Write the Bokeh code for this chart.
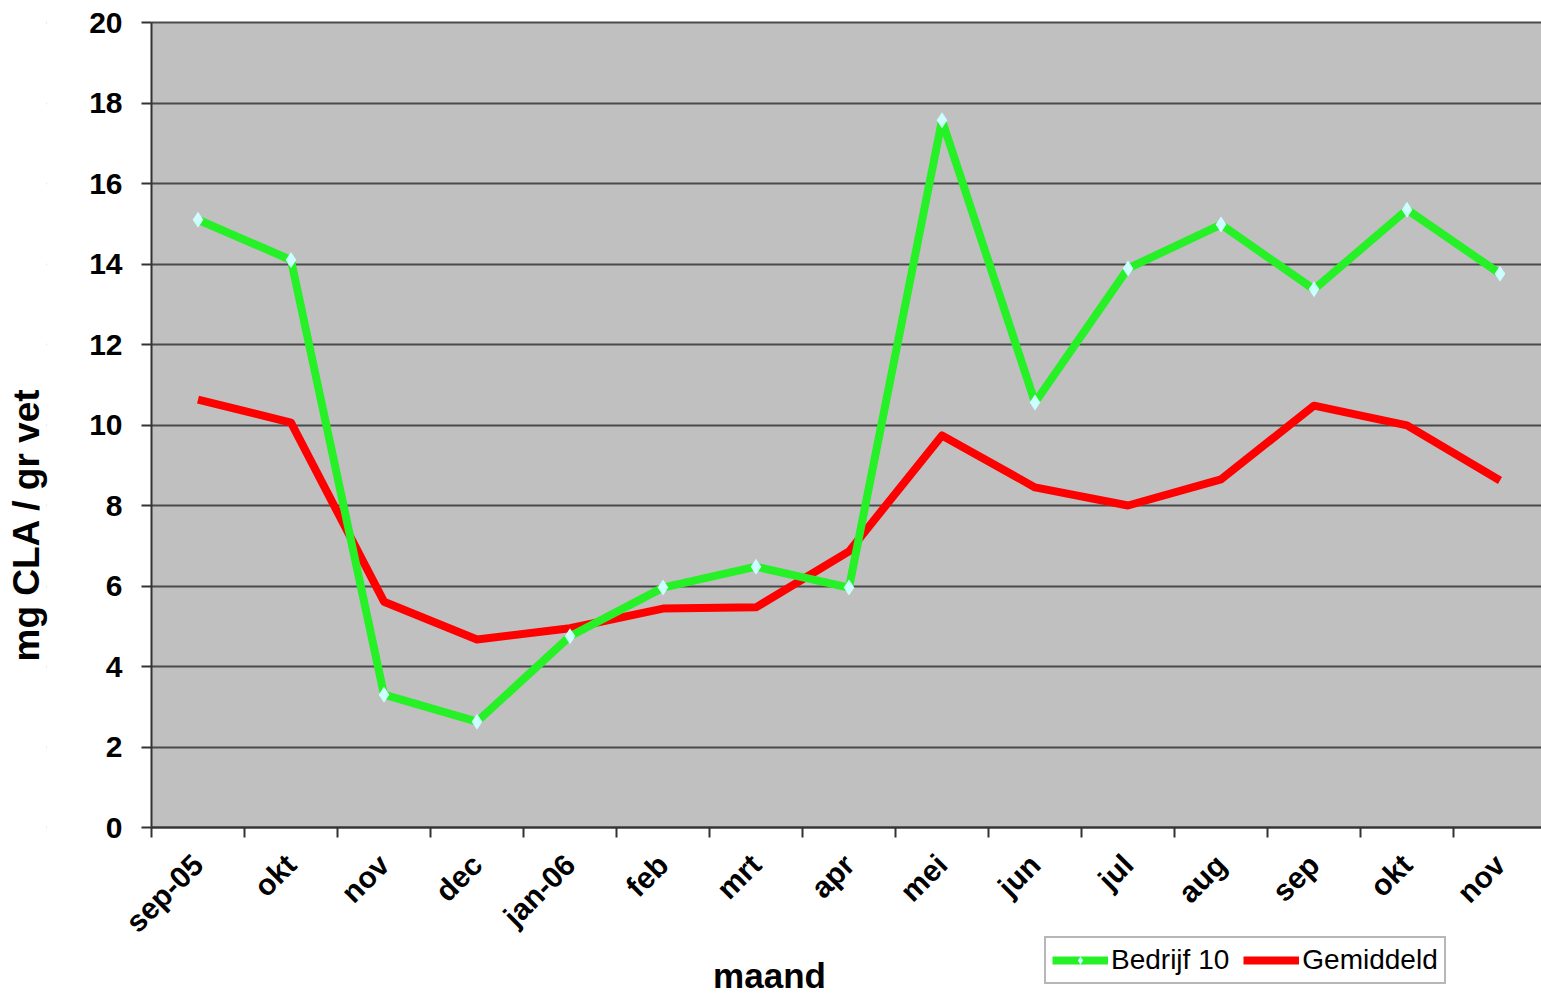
from math import pi
from bokeh.plotting import figure
from bokeh.models import (Range1d, FixedTicker, Legend, LegendItem, BoxAnnotation,
                          Title, Label)
from bokeh.embed import file_html
from bokeh.resources import INLINE

months = ["sep-05", "okt", "nov", "dec", "jan-06", "feb", "mrt", "apr",
          "mei", "jun", "jul", "aug", "sep", "okt", "nov"]
bedrijf10 = [15.1, 14.1, 3.3, 2.63, 4.75, 5.96, 6.48, 5.96,
             17.57, 10.56, 13.89, 14.98, 13.37, 15.35, 13.76]
gemiddeld = [10.63, 10.06, 5.61, 4.67, 4.95, 5.44, 5.47, 6.86,
             9.74, 8.45, 8.0, 8.65, 10.48, 9.99, 8.62]
y_ticks = [0, 2, 4, 6, 8, 10, 12, 14, 16, 18, 20]

xs = list(range(len(months)))

# layout (pixels)
W, H = 1541, 994
TITLE_PANEL = 46          # left panel holding the y-axis title
AXIS_X = 151              # page x of the y axis
TOP_Y, ZERO_Y = 22, 827   # page y of value 20 and value 0
CAT_W = 93.0              # pixel width of one month

ppu = (ZERO_Y - TOP_Y) / 20.0
x0 = -0.5 - (AXIS_X - TITLE_PANEL) / CAT_W
x1 = x0 + (W - TITLE_PANEL) / CAT_W
y_max = 20 + TOP_Y / ppu
y_min = -(H - ZERO_Y) / ppu

p = figure(width=W, height=H, output_backend="svg", toolbar_location=None,
           x_range=Range1d(x0, x1), y_range=Range1d(y_min, y_max),
           min_border_left=TITLE_PANEL, min_border_top=0,
           min_border_right=0, min_border_bottom=0)
p.background_fill_color = "white"
p.border_fill_color = "white"
p.outline_line_color = None

font = "Liberation Sans"

# grey plot area
p.add_layout(BoxAnnotation(left=-0.5, bottom=0, top=20, fill_color="#C0C0C0",
                           fill_alpha=1, line_color=None, level="image"))

# grid
p.xgrid.grid_line_color = None
p.ygrid.ticker = FixedTicker(ticks=y_ticks)
p.ygrid.grid_line_color = "#4a4a4a"
p.ygrid.grid_line_width = 2
# hide grid left of the y axis
p.add_layout(BoxAnnotation(left=x0 - 1, right=-0.5, bottom=y_min - 1, top=y_max + 1,
                           fill_color="white", fill_alpha=1,
                           line_color=None, level="underlay"))

# y axis
p.yaxis.fixed_location = -0.5
p.yaxis.ticker = FixedTicker(ticks=y_ticks)
p.yaxis.bounds = (0, 20)
p.yaxis.axis_line_color = "#333333"
p.yaxis.axis_line_width = 2
p.yaxis.major_tick_line_color = "#333333"
p.yaxis.major_tick_line_width = 2
p.yaxis.major_tick_out = 10
p.yaxis.major_tick_in = 0
p.yaxis.minor_tick_line_color = None
p.yaxis.major_label_text_font = font
p.yaxis.major_label_text_font_style = "bold"
p.yaxis.major_label_text_font_size = "30px"
p.yaxis.major_label_text_color = "black"
p.yaxis.major_label_standoff = 19

p.add_layout(Title(text="mg CLA / gr vet", align="left", offset=333,
                   text_font=font, text_font_style="bold", text_font_size="37px",
                   text_color="black", standoff=0), "left")

# x axis at y = 0: labels at month centres, ticks at month boundaries
p.xaxis.fixed_location = 0
p.xaxis.bounds = (-0.5, x1)
p.xaxis.ticker = FixedTicker(ticks=xs, minor_ticks=[i - 0.5 for i in range(len(months) + 1)])
p.xaxis.major_label_overrides = {i: m for i, m in enumerate(months)}
p.xaxis.axis_line_color = "#333333"
p.xaxis.axis_line_width = 2
p.xaxis.major_tick_line_color = None
p.xaxis.major_tick_out = 0
p.xaxis.major_tick_in = 0
p.xaxis.minor_tick_line_color = "#333333"
p.xaxis.minor_tick_line_width = 2
p.xaxis.minor_tick_out = 10
p.xaxis.minor_tick_in = 0
p.xaxis.major_label_orientation = pi / 4
p.xaxis.major_label_text_font = font
p.xaxis.major_label_text_font_style = "bold"
p.xaxis.major_label_text_font_size = "30px"
p.xaxis.major_label_text_color = "black"
p.xaxis.major_label_standoff = 22

p.add_layout(Label(x=769 - TITLE_PANEL, y=19, x_units="screen", y_units="screen",
                   text="maand", text_align="center", text_baseline="middle",
                   text_font=font, text_font_style="bold", text_font_size="35px",
                   text_color="black"))

green = "#26F026"
red = "#FF0000"

r_red = p.line(xs, gemiddeld, line_color=red, line_width=8, line_join="round")
r_green = p.line(xs, bedrijf10, line_color=green, line_width=8, line_join="round")
r_mark = p.scatter(xs, bedrijf10, marker="diamond", size=16,
                   fill_color="#CCFFFF", line_color=None)

legend = Legend(items=[LegendItem(label="Bedrijf 10", renderers=[r_green, r_mark]),
                       LegendItem(label="Gemiddeld", renderers=[r_red])],
                orientation="horizontal", location=(1044 - TITLE_PANEL, 10))
legend.label_text_font = font
legend.label_text_font_size = "28px"
legend.label_text_color = "black"
legend.glyph_width = 56
legend.glyph_height = 20
legend.label_standoff = 3
legend.spacing = 14
legend.padding = 6
legend.margin = 0
legend.border_line_color = "#707070"
legend.border_line_width = 2
legend.background_fill_color = "white"
legend.background_fill_alpha = 1
p.add_layout(legend)

open("out.html", "w").write(file_html(p, INLINE))
